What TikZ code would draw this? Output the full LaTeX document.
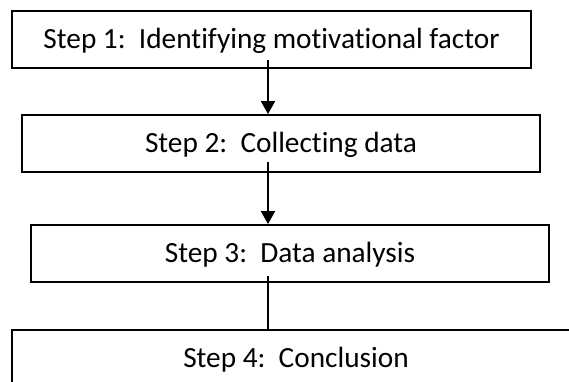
\documentclass[tikz,border=0pt]{standalone}
\usepackage{fontspec}
\setmainfont{Carlito}[RawFeature=-liga]
\usetikzlibrary{arrows.meta}
\begin{document}
\frenchspacing
\begin{tikzpicture}[x=1pt,y=1pt,
  stepbox/.style={draw=black, line width=1.8pt, rectangle, minimum height=57pt,
    inner sep=0pt, text height=18.7pt, text depth=0pt,
    font=\fontsize{29.3}{35}\selectfont},
  arr/.style={line width=1.8pt, -{Triangle[width=14pt,length=13pt]}},
  plain/.style={line width=1.8pt}]
\useasboundingbox (0,0) rectangle (569,381);
\clip (0,0) rectangle (569,381);
\node[stepbox, minimum width=519pt] (b1) at (271.5,341.5) {Step 1: \ Identifying motivational factor};
\node[stepbox, minimum width=518pt] (b2) at (281,237.5) {Step 2: \ Collecting data};
\node[stepbox, minimum width=518pt] (b3) at (290,127.5) {Step 3: \ Data analysis};
\node[stepbox, minimum width=568pt] (b4) at (296,22.5) {Step 4: \ Conclusion};
\coordinate (s1) at (268,321);
\coordinate (s2) at (268,219);
\coordinate (s3) at (268,105);
\draw[arr] (s1) -- (s1 |- b2.north);
\draw[arr] (s2) -- (s2 |- b3.north);
\draw[plain] (s3) -- (s3 |- b4.north);
\end{tikzpicture}
\end{document}
